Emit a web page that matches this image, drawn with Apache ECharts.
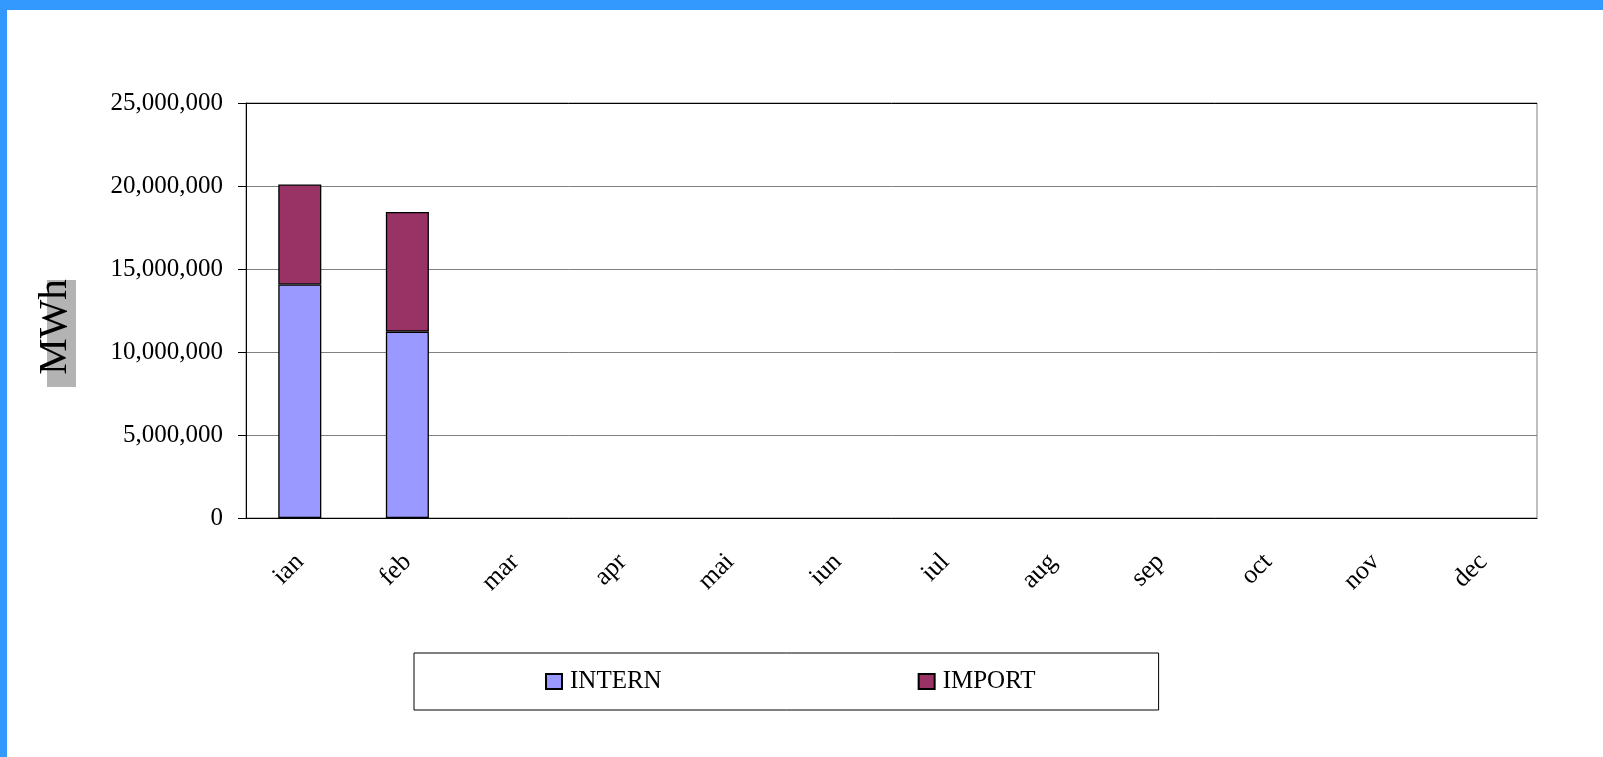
<!DOCTYPE html>
<html>
<head>
<meta charset="utf-8">
<script src="https://cdn.jsdelivr.net/npm/echarts@6/dist/echarts.min.js"></script>
<style>
    html, body { margin: 0; padding: 0; background: #fff; }
    #chart { position: absolute; left: 0; top: 0; width: 1603px; height: 757px; }
    .frame-top { position: absolute; left: 0; top: 0; width: 1603px; height: 10px; background: #3399ff; }
    .frame-left { position: absolute; left: 0; top: 0; width: 7px; height: 757px; background: #3399ff; }
</style>
</head>
<body>
<div id="chart"></div>
<div class="frame-top"></div>
<div class="frame-left"></div>
<script>
// luni
const months = ['ian', 'feb', 'mar', 'apr', 'mai', 'iun', 'iul', 'aug', 'sep', 'oct', 'nov', 'dec'];
// MWh, doar ian si feb au date
const internData = [14070000, 11230000, null, null, null, null, null, null, null, null, null, null];
const importData = [6020000, 7210000, null, null, null, null, null, null, null, null, null, null];

const serif = '"Liberation Serif", "DejaVu Serif", serif';
const fmt = (v) => v.toLocaleString('en-US');

const myChart = echarts.init(document.getElementById('chart'));

myChart.setOption({
    animation: false,
    backgroundColor: '#fff',
    textStyle: { fontFamily: serif, color: '#000' },
    grid: {
        left: 246, top: 103, right: 66, bottom: 239,
        show: true, borderColor: '#808080', borderWidth: 1
    },
    legend: {
        data: ['INTERN', 'IMPORT'],
        icon: 'rect',
        left: 414, top: 653,
        padding: [16, 123, 16, 131],
        itemGap: 256,
        itemWidth: 16, itemHeight: 15,
        borderColor: '#000', borderWidth: 1,
        textStyle: { fontFamily: serif, fontSize: 25, color: '#000', padding: [0, 0, 0, 3] }
    },
    xAxis: {
        type: 'category',
        data: months,
        axisLine: { lineStyle: { color: '#000', width: 1 } },
        axisTick: { length: 8, lineStyle: { color: '#000' } },
        axisLabel: { rotate: 45, margin: 40, fontFamily: serif, fontSize: 26, color: '#000', interval: 0 }
    },
    yAxis: {
        type: 'value',
        min: 0, max: 25000000, interval: 5000000,
        axisLine: { show: true, lineStyle: { color: '#000', width: 1 } },
        axisTick: { show: true, length: 8, lineStyle: { color: '#000' } },
        axisLabel: { margin: 23, fontFamily: serif, fontSize: 25, color: '#000', formatter: fmt },
        splitLine: { lineStyle: { color: ['#808080', '#808080', '#808080', '#808080', '#808080', '#000'], width: 1 } }
    },
    graphic: [
        { type: 'rect', shape: { x: 47, y: 280, width: 29, height: 107 }, style: { fill: '#b3b3b3' }, z: 1 },
        {
            type: 'text', x: 55, y: 327, rotation: Math.PI / 2, z: 2,
            style: { text: 'MWh', fontFamily: serif, fontSize: 41, fill: '#000', align: 'center', verticalAlign: 'middle' }
        }
    ],
    series: [
        {
            name: 'INTERN', type: 'bar', stack: 'total', data: internData, barWidth: '40%',
            itemStyle: { color: '#9999ff', borderColor: '#000', borderWidth: 1.3 }
        },
        {
            name: 'IMPORT', type: 'bar', stack: 'total', data: importData, barWidth: '40%',
            itemStyle: { color: '#993366', borderColor: '#000', borderWidth: 1.3 }
        }
    ]
});
</script>
</body>
</html>
